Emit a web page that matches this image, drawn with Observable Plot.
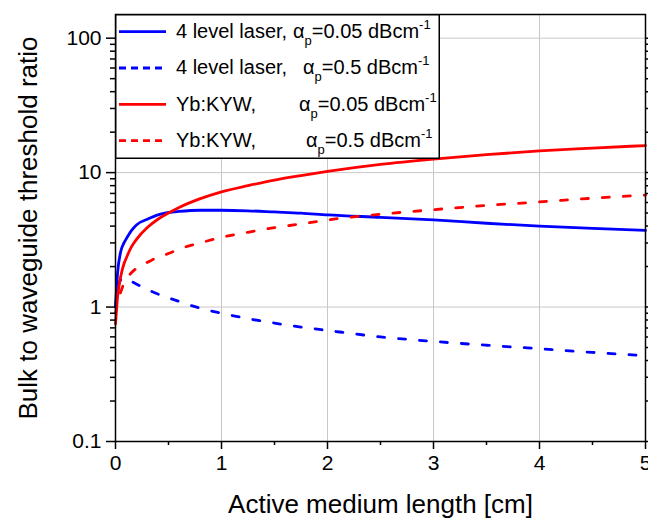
<!DOCTYPE html>
<html><head><meta charset="utf-8">
<script src="https://cdn.jsdelivr.net/npm/d3@7"></script>
<script src="https://cdn.jsdelivr.net/npm/@observablehq/plot@0.6"></script>
<style>
body{margin:0;background:#fff;font-family:"Liberation Sans",Arial,sans-serif}
#wrap{position:relative;width:648px;height:519px;overflow:hidden}
#legend{position:absolute;left:115px;top:14px}
</style></head><body><div id="wrap"></div>
<script>
// Active medium length [cm]
const lengths = [0, 0.02, 0.05, 0.08, 0.1, 0.15, 0.2, 0.3, 0.4, 0.5, 0.6, 0.8, 1, 1.25, 1.5, 1.75, 2, 2.5, 3, 3.5, 4, 4.5, 5];
// 4 level laser, alpha_p = 0.05 dB/cm
const fourLevel005 = [1.0, 1.8, 2.6, 3.0, 3.2, 3.7, 4.1, 4.5, 4.85, 5.05, 5.15, 5.25, 5.25, 5.2, 5.1, 5.0, 4.85, 4.65, 4.45, 4.2, 4.0, 3.85, 3.72];
// 4 level laser, alpha_p = 0.5 dB/cm
const fourLevel05 = [1.0, 1.35, 1.6, 1.65, 1.63, 1.55, 1.48, 1.35, 1.25, 1.17, 1.1, 0.98, 0.9, 0.82, 0.76, 0.71, 0.67, 0.6, 0.555, 0.52, 0.49, 0.46, 0.435];
// Yb:KYW, alpha_p = 0.05 dB/cm
const ybkyw005 = [0.75, 1.2, 1.7, 2.1, 2.3, 2.8, 3.2, 3.9, 4.5, 5.0, 5.5, 6.4, 7.2, 8.0, 8.8, 9.5, 10.2, 11.5, 12.6, 13.6, 14.5, 15.2, 15.9];
// Yb:KYW, alpha_p = 0.5 dB/cm
const ybkyw05 = [0.9, 1.1, 1.3, 1.5, 1.6, 1.8, 1.95, 2.15, 2.35, 2.5, 2.7, 3.0, 3.3, 3.6, 3.9, 4.15, 4.45, 4.9, 5.3, 5.7, 6.05, 6.45, 6.8];

const seriesNames = ["4 level laser,", "4 level laser,", "Yb:KYW,", "Yb:KYW,"];
const seriesAlpha = ["0.05", "0.5", "0.05", "0.5"];
const xTicks = [0, 1, 2, 3, 4, 5];
const xMinorTicks = [0.5, 1.5, 2.5, 3.5, 4.5];
const yTicks = [0.1, 1, 10, 100];
const yTickLabels = ["0.1", "1", "10", "100"];
const xLabel = "Active medium length [cm]";
const yLabel = "Bulk to waveguide threshold ratio";

const seriesValues = [fourLevel005, fourLevel05, ybkyw005, ybkyw05];
const styles = [
  {stroke: "#0000ff", dash: null},
  {stroke: "#0000ff", dash: "7,14"},
  {stroke: "#ff0000", dash: null},
  {stroke: "#ff0000", dash: "7,14"}
];
const yMinor = [];
for (const d of [0.1, 1, 10]) for (let k = 2; k <= 9; k++) yMinor.push(+(d * k).toPrecision(3));

const lineMarks = seriesValues.map((vals, i) => Plot.line(
  lengths.map((x, j) => ({x, y: vals[j]})),
  {x: "x", y: "y", stroke: styles[i].stroke, strokeWidth: 2.8, strokeDasharray: styles[i].dash, curve: "monotone-x"}
));

const chart = Plot.plot({
  width: 648, height: 519,
  marginLeft: 115, marginRight: 3, marginTop: 14, marginBottom: 78,
  style: {fontFamily: "'Liberation Sans', Arial, sans-serif", color: "#000", background: "#fff"},
  x: {domain: [0, 5]},
  y: {type: "log", domain: [0.1, 150]},
  marks: [
    Plot.gridX({ticks: [1, 2, 3, 4], stroke: "#c8c8c8", strokeOpacity: 1, strokeWidth: 1}),
    Plot.gridY({ticks: [1, 10, 100], stroke: "#c8c8c8", strokeOpacity: 1, strokeWidth: 1}),
    ...lineMarks,
    Plot.frame({stroke: "#000", strokeWidth: 1.5}),
    Plot.axisX({ticks: xTicks, tickSize: 8, tickPadding: 6, tickFormat: d => String(d), fontSize: 21, label: null, strokeWidth: 1.5}),
    Plot.axisX({ticks: xMinorTicks, tickSize: 4, tickFormat: () => "", label: null, strokeWidth: 1.5}),
    Plot.axisY({ticks: yTicks, tickSize: 9, tickPadding: 5, tickFormat: d => yTickLabels[yTicks.indexOf(d)], fontSize: 21, label: null, strokeWidth: 1.5}),
    Plot.axisY({ticks: yMinor, tickSize: 5, tickFormat: () => "", label: null, strokeWidth: 1.5}),
    Plot.axisY({anchor: "right", ticks: yTicks, tickSize: 9, tickFormat: () => "", label: null, strokeWidth: 1.5}),
    Plot.axisY({anchor: "right", ticks: yMinor, tickSize: 5, tickFormat: () => "", label: null, strokeWidth: 1.5}),
    Plot.text([xLabel], {frameAnchor: "bottom", dy: 63, text: d => d, fontSize: 26, textAnchor: "middle", lineAnchor: "middle"}),
    Plot.text([yLabel], {frameAnchor: "left", dx: -87, text: d => d, fontSize: 26, rotate: -90, textAnchor: "middle", lineAnchor: "middle"})
  ]
});
const wrap = document.getElementById("wrap");
wrap.appendChild(chart);

// legend box (drawn over the plot, as in the original)
const ns = "http://www.w3.org/2000/svg";
const lw = 324, lh = 144;
const leg = document.createElementNS(ns, "svg");
leg.setAttribute("id", "legend");
leg.setAttribute("width", lw + 2); leg.setAttribute("height", lh + 2);
let html = `<rect x="0.75" y="0.75" width="${lw - 0.5}" height="${lh - 0.5}" fill="#fff" stroke="#000" stroke-width="1.5"/>`;
const alphaX = [178, 188, 184, 191];
seriesNames.forEach((name, i) => {
  const cy = 17.7 + i * 36.3;
  const dash = styles[i].dash ? `stroke-dasharray="7,5"` : "";
  html += `<line x1="4" x2="51" y1="${cy}" y2="${cy}" stroke="${styles[i].stroke}" stroke-width="2.8" ${dash}/>`;
  const by = cy + 6.2;
  html += `<text x="61" y="${by}" font-size="20" font-family="Liberation Sans, Arial, sans-serif">${name}</text>`;
  html += `<text x="${alphaX[i]}" y="${by}" font-size="20" font-family="Liberation Sans, Arial, sans-serif">α<tspan font-size="13" dy="7">p</tspan><tspan dy="-7">=${seriesAlpha[i]} dBcm</tspan><tspan font-size="13" dy="-9">-1</tspan></text>`;
});
leg.innerHTML = html;
wrap.appendChild(leg);
</script>
</body></html>
